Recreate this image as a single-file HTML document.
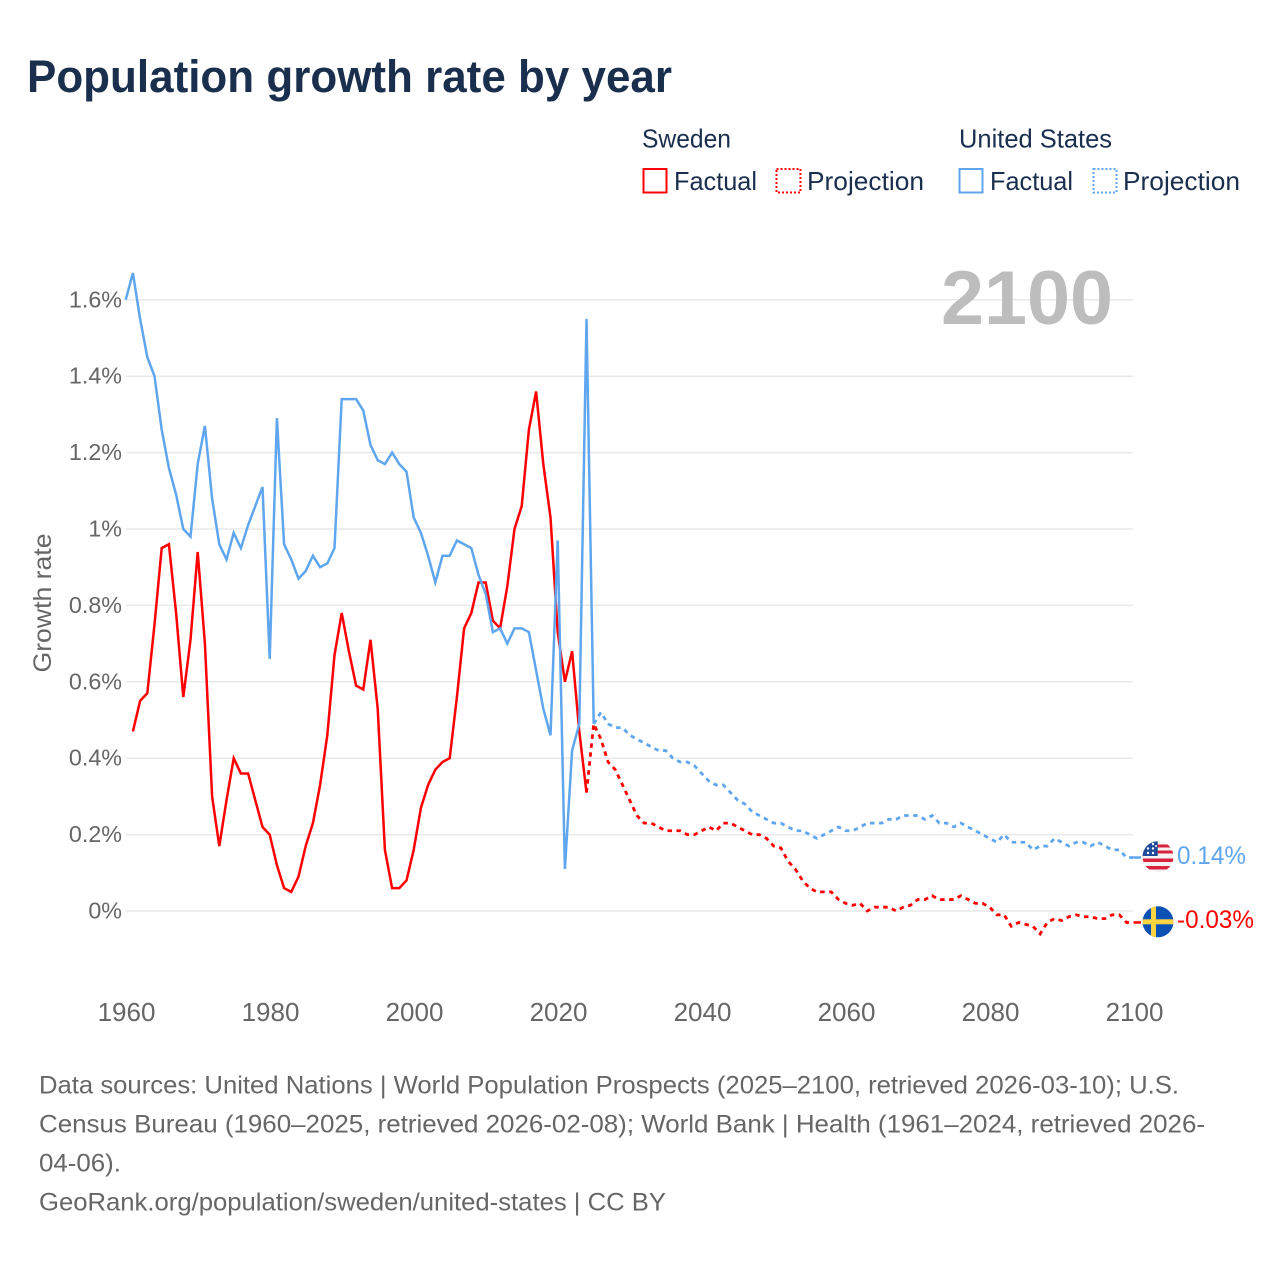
<!DOCTYPE html>
<html lang="en">
<head>
<meta charset="utf-8">
<title>Population growth rate by year</title>
<style>
html,body{margin:0;padding:0;background:#fff;}
svg{display:block;}
text{font-family:"Liberation Sans",sans-serif;}
</style>
</head>
<body>
<svg id="chart" xmlns="http://www.w3.org/2000/svg" width="1280" height="1280" viewBox="0 0 1280 1280">
  <rect width="1280" height="1280" fill="#ffffff"/>
  <text x="27" y="92" font-size="45" font-weight="700" fill="#1a2f4e" textLength="645" lengthAdjust="spacingAndGlyphs">Population growth rate by year</text>

  <g font-size="26" fill="#1a2f4e">
    <text x="642" y="147.5" textLength="89" lengthAdjust="spacingAndGlyphs">Sweden</text>
    <text x="959" y="147.5" textLength="153" lengthAdjust="spacingAndGlyphs">United States</text>
    <rect x="643.5" y="169" width="23" height="23.5" fill="none" stroke="#ff0000" stroke-width="2"/>
    <text x="674" y="190" textLength="83" lengthAdjust="spacingAndGlyphs">Factual</text>
    <rect x="776.5" y="169" width="24" height="23.5" fill="none" stroke="#ff0000" stroke-width="2" stroke-dasharray="2 2"/>
    <text x="807" y="190" textLength="117" lengthAdjust="spacingAndGlyphs">Projection</text>
    <rect x="959.5" y="169" width="23" height="23.5" fill="none" stroke="#5fa6ee" stroke-width="2"/>
    <text x="990" y="190" textLength="83" lengthAdjust="spacingAndGlyphs">Factual</text>
    <rect x="1093.5" y="169" width="23" height="23.5" fill="none" stroke="#5fa6ee" stroke-width="2" stroke-dasharray="2 2"/>
    <text x="1123" y="190" textLength="117" lengthAdjust="spacingAndGlyphs">Projection</text>
  </g>

  <g id="grid"></g>
  <g id="yticks" font-size="23.3" fill="#666666" text-anchor="end"></g>
  <g id="xticks" font-size="26" fill="#666666" text-anchor="middle"></g>
  <text transform="translate(51,603) rotate(-90)" font-size="25" fill="#666666" text-anchor="middle" textLength="139" lengthAdjust="spacingAndGlyphs">Growth rate</text>

  <text x="941" y="324" font-size="76" font-weight="700" fill="#bdbdbd" textLength="172" lengthAdjust="spacingAndGlyphs">2100</text>

  <g id="series"></g>

  <defs>
    <clipPath id="clip-us"><circle cx="1158" cy="856.7" r="15.5"/></clipPath>
    <clipPath id="clip-se"><circle cx="1158" cy="921.8" r="15.5"/></clipPath>
  </defs>
  <g clip-path="url(#clip-us)">
    <rect x="1142" y="841" width="32" height="32" fill="#f3f3f3"/>
    <rect x="1157" y="844.5" width="17" height="3" fill="#d8243c"/>
    <rect x="1157" y="850.5" width="17" height="3" fill="#d8243c"/>
    <rect x="1142" y="858.5" width="32" height="3.5" fill="#d8243c"/>
    <rect x="1142" y="866" width="32" height="3.5" fill="#d8243c"/>
    <rect x="1142" y="841" width="15.7" height="15" fill="#1f4a98"/>
    <circle cx="1148" cy="853" r="1.2" fill="#fff"/><circle cx="1153" cy="853" r="1.2" fill="#fff"/>
    <circle cx="1148" cy="848.5" r="1.2" fill="#fff"/><circle cx="1153" cy="848.5" r="1.2" fill="#fff"/>
    <circle cx="1153" cy="844" r="1.2" fill="#fff"/><circle cx="1156" cy="846" r="1" fill="#fff"/>
  </g>
  <g clip-path="url(#clip-se)">
    <rect x="1142" y="906" width="32" height="32" fill="#0b50b4"/>
    <rect x="1151" y="906" width="5" height="32" fill="#fdd542"/>
    <rect x="1142" y="919.3" width="32" height="5" fill="#fdd542"/>
  </g>
  <text x="1177" y="864" font-size="25" fill="#5fa6ee" textLength="69" lengthAdjust="spacingAndGlyphs">0.14%</text>
  <text x="1177" y="928" font-size="25" fill="#ff0000" textLength="77" lengthAdjust="spacingAndGlyphs">-0.03%</text>

  <g font-size="25" fill="#666666">
    <text x="39" y="1093.5" textLength="1140" lengthAdjust="spacingAndGlyphs">Data sources: United Nations | World Population Prospects (2025–2100, retrieved 2026-03-10); U.S.</text>
    <text x="39" y="1132.5" textLength="1166" lengthAdjust="spacingAndGlyphs">Census Bureau (1960–2025, retrieved 2026-02-08); World Bank | Health (1961–2024, retrieved 2026-</text>
    <text x="39" y="1171.5" textLength="82" lengthAdjust="spacingAndGlyphs">04-06).</text>
    <text x="39" y="1210.5" textLength="627" lengthAdjust="spacingAndGlyphs">GeoRank.org/population/sweden/united-states | CC BY</text>
  </g>
</svg>
<script>
const xTickYears = [1960, 1980, 2000, 2020, 2040, 2060, 2080, 2100];
const yTickValues = [0, 0.2, 0.4, 0.6, 0.8, 1, 1.2, 1.4, 1.6];
const yTickLabels = ['0%', '0.2%', '0.4%', '0.6%', '0.8%', '1%', '1.2%', '1.4%', '1.6%'];

const usFactualStartYear = 1960;
const usFactual = [1.6,1.67,1.55,1.45,1.4,1.26,1.16,1.09,1,0.98,1.17,1.27,1.08,0.96,0.92,0.99,0.95,1.01,1.06,1.11,0.66,1.29,0.96,0.92,0.87,0.89,0.93,0.9,0.91,0.95,1.34,1.34,1.34,1.31,1.22,1.18,1.17,1.2,1.17,1.15,1.03,0.99,0.93,0.86,0.93,0.93,0.97,0.96,0.95,0.88,0.83,0.73,0.74,0.7,0.74,0.74,0.73,0.63,0.53,0.46,0.97,0.11,0.42,0.49,1.55,0.49];

const usProjectionStartYear = 2025;
const usProjection = [0.49,0.52,0.49,0.48,0.48,0.46,0.45,0.44,0.43,0.42,0.42,0.4,0.39,0.39,0.38,0.36,0.34,0.33,0.33,0.31,0.29,0.28,0.26,0.25,0.24,0.23,0.23,0.22,0.21,0.21,0.2,0.19,0.2,0.21,0.22,0.21,0.21,0.22,0.23,0.23,0.23,0.24,0.24,0.25,0.25,0.25,0.24,0.25,0.23,0.23,0.22,0.23,0.22,0.21,0.2,0.19,0.18,0.2,0.18,0.18,0.18,0.16,0.17,0.17,0.19,0.18,0.17,0.18,0.18,0.17,0.18,0.17,0.16,0.16,0.14,0.14];

const swedenFactualStartYear = 1961;
const swedenFactual = [0.47,0.55,0.57,0.75,0.95,0.96,0.78,0.56,0.71,0.94,0.7,0.3,0.17,0.29,0.4,0.36,0.36,0.29,0.22,0.2,0.12,0.06,0.05,0.09,0.17,0.23,0.33,0.46,0.67,0.78,0.68,0.59,0.58,0.71,0.53,0.16,0.06,0.06,0.08,0.16,0.27,0.33,0.37,0.39,0.4,0.56,0.74,0.78,0.86,0.86,0.76,0.74,0.85,1,1.06,1.26,1.36,1.17,1.03,0.73,0.6,0.68,0.47,0.31];

const swedenProjectionStartYear = 2024;
const swedenProjection = [0.31,0.49,0.45,0.39,0.37,0.33,0.29,0.25,0.23,0.23,0.22,0.21,0.21,0.21,0.2,0.2,0.21,0.22,0.21,0.23,0.23,0.22,0.21,0.2,0.2,0.19,0.17,0.165,0.13,0.11,0.08,0.06,0.05,0.05,0.05,0.03,0.02,0.015,0.02,0,0.01,0.01,0.01,0,0.01,0.015,0.03,0.03,0.04,0.03,0.03,0.03,0.04,0.03,0.02,0.02,0.01,-0.01,-0.01,-0.04,-0.03,-0.035,-0.04,-0.06,-0.03,-0.02,-0.025,-0.015,-0.01,-0.015,-0.015,-0.02,-0.02,-0.01,-0.01,-0.03,-0.03];

const NS = 'http://www.w3.org/2000/svg';
const xScale = function (year) { return 125.7 + (year - 1960) * (1008 / 140); };
const yScale = function (value) { return 911 - value * 382; };

function pathFor(values, startYear) {
  return values.map(function (v, i) {
    return (i ? 'L' : 'M') + xScale(startYear + i).toFixed(2) + ' ' + yScale(v).toFixed(2);
  }).join(' ');
}

const gridGroup = document.getElementById('grid');
const yGroup = document.getElementById('yticks');
yTickValues.forEach(function (v, i) {
  const line = document.createElementNS(NS, 'line');
  
  
  line.setAttribute('x1', 126);
  line.setAttribute('x2', 1133);
  line.setAttribute('y1', yScale(v));
  line.setAttribute('y2', yScale(v));
  line.setAttribute('stroke', '#e9e9e9');
  line.setAttribute('stroke-width', '1.5');
  gridGroup.appendChild(line);
  const t = document.createElementNS(NS, 'text');
  
  
  t.setAttribute('x', 122);
  t.setAttribute('y', yScale(v) + 7.5);
  t.textContent = yTickLabels[i];
  yGroup.appendChild(t);
});

const xGroup = document.getElementById('xticks');
xTickYears.forEach(function (year) {
  const t = document.createElementNS(NS, 'text');
  
  
  t.setAttribute('x', xScale(year) + 0.8);
  t.setAttribute('y', 1021);
  t.textContent = year;
  xGroup.appendChild(t);
});

const seriesGroup = document.getElementById('series');
function addLine(d, color, dash, name) {
  const p = document.createElementNS(NS, 'path');
  
  
  p.setAttribute('d', d);
  p.setAttribute('fill', 'none');
  p.setAttribute('stroke', color);
  p.setAttribute('stroke-width', dash ? '2.8' : '2.5');
  p.setAttribute('stroke-linejoin', 'miter');
  if (dash) p.setAttribute('stroke-dasharray', dash);
  seriesGroup.appendChild(p);
}
const RED = '#ff0000';
const BLUE = '#5fa6ee';
addLine(pathFor(swedenFactual, swedenFactualStartYear), RED, '', 'line-sweden-factual');
addLine(pathFor(swedenProjection, swedenProjectionStartYear), RED, '4.5 4.5', 'line-sweden-projection');
addLine(pathFor(usFactual, usFactualStartYear), BLUE, '', 'line-us-factual');
addLine(pathFor(usProjection, usProjectionStartYear), BLUE, '4.5 4.5', 'line-us-projection');

const lastSweden = swedenProjection[swedenProjection.length - 1];
const lastUs = usProjection[usProjection.length - 1];
addLine('M' + xScale(2100) + ' ' + yScale(lastSweden) + ' L1141 ' + yScale(lastSweden), RED, '', 'connector-sweden-flag');
addLine('M' + xScale(2100) + ' ' + yScale(lastUs) + ' L1141 ' + yScale(lastUs), BLUE, '', 'connector-us-flag');
</script>
</body>
</html>
